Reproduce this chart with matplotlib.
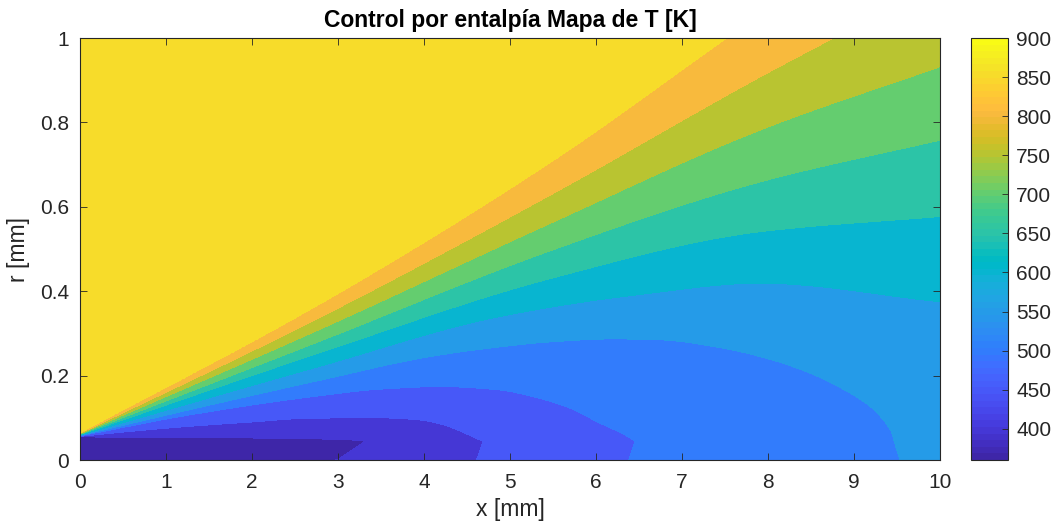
import numpy as np
import matplotlib
matplotlib.use("Agg")
import matplotlib.pyplot as plt
from matplotlib.colors import ListedColormap, Normalize
from matplotlib.cm import ScalarMappable
from matplotlib.ticker import FuncFormatter

plt.rcParams['font.family'] = ['Liberation Sans', 'DejaVu Sans']

# parula (64 colours)
parula = ListedColormap([
    [0.2422, 0.1504, 0.6603], [0.2504, 0.1650, 0.7076], [0.2578, 0.1818, 0.7511], [0.2647, 0.1978, 0.7952],
    [0.2706, 0.2147, 0.8364], [0.2751, 0.2342, 0.8710], [0.2783, 0.2559, 0.8991], [0.2803, 0.2782, 0.9221],
    [0.2813, 0.3006, 0.9414], [0.2810, 0.3228, 0.9579], [0.2795, 0.3447, 0.9717], [0.2760, 0.3667, 0.9829],
    [0.2699, 0.3892, 0.9906], [0.2602, 0.4123, 0.9952], [0.2440, 0.4358, 0.9988], [0.2206, 0.4603, 0.9973],
    [0.1963, 0.4847, 0.9892], [0.1834, 0.5074, 0.9798], [0.1786, 0.5289, 0.9682], [0.1764, 0.5499, 0.9520],
    [0.1687, 0.5703, 0.9359], [0.1540, 0.5902, 0.9218], [0.1460, 0.6091, 0.9079], [0.1380, 0.6276, 0.8973],
    [0.1248, 0.6459, 0.8883], [0.1113, 0.6635, 0.8763], [0.0952, 0.6798, 0.8598], [0.0689, 0.6948, 0.8394],
    [0.0297, 0.7082, 0.8163], [0.0036, 0.7203, 0.7917], [0.0067, 0.7312, 0.7660], [0.0433, 0.7411, 0.7394],
    [0.0964, 0.7500, 0.7120], [0.1408, 0.7584, 0.6842], [0.1717, 0.7670, 0.6554], [0.1938, 0.7758, 0.6251],
    [0.2161, 0.7843, 0.5923], [0.2470, 0.7918, 0.5567], [0.2906, 0.7973, 0.5188], [0.3406, 0.8008, 0.4789],
    [0.3909, 0.8029, 0.4354], [0.4456, 0.8024, 0.3909], [0.5044, 0.7993, 0.3480], [0.5616, 0.7942, 0.3045],
    [0.6174, 0.7876, 0.2612], [0.6720, 0.7793, 0.2227], [0.7242, 0.7698, 0.1910], [0.7738, 0.7598, 0.1646],
    [0.8203, 0.7498, 0.1535], [0.8634, 0.7406, 0.1596], [0.9035, 0.7330, 0.1774], [0.9393, 0.7288, 0.2100],
    [0.9728, 0.7298, 0.2394], [0.9956, 0.7434, 0.2371], [0.9970, 0.7659, 0.2199], [0.9952, 0.7893, 0.2028],
    [0.9892, 0.8136, 0.1885], [0.9786, 0.8386, 0.1766], [0.9676, 0.8639, 0.1643], [0.9610, 0.8890, 0.1537],
    [0.9597, 0.9135, 0.1423], [0.9628, 0.9373, 0.1265], [0.9691, 0.9606, 0.1064], [0.9769, 0.9839, 0.0805],
], name='parula')

T_min, T_max = 360, 900
iso_levels = [400, 450, 500, 550, 600, 650, 700, 750, 800, 850]

# temperature on the axis (r = 0) and just off it
x_st = [0, 1, 2, 3, 4, 5, 6, 7, 8, 9, 10]
T_axis = [360, 368, 382, 400.5, 432, 461.5, 492, 513, 528, 542, 557]
r_near = 0.045
T_near = [365, 372, 382, 389, 424, 462, 490, 512, 528, 543, 558]

# temperature at the upper edge r = 1 mm
x_top = [0, 5, 6.5, 7.52, 8.76, 10]
T_top = [900, 900, 885, 850, 800, 762]

# isotherm positions r(x) [mm]
iso_400 = ([0, 1.22, 2.0, 2.7, 3.1, 3.31],
           [0.055, 0.053, 0.052, 0.050, 0.048, 0.045])
iso_450 = ([0, 0.6, 1.22, 2.0, 2.67, 3.45, 3.9, 4.2, 4.45, 4.62, 4.68],
           [0.056, 0.068, 0.079, 0.090, 0.099, 0.100, 0.096, 0.085, 0.066, 0.050, 0.045])
iso_500 = ([0, 1.22, 2.7, 3.5, 4.2, 4.88, 5.27, 5.66, 6.05, 6.33, 6.45],
           [0.057, 0.105, 0.150, 0.168, 0.174, 0.166, 0.150, 0.126, 0.087, 0.060, 0.045])
iso_550 = ([0, 1.4, 2.77, 4.07, 4.88, 5.47, 6.2, 6.74, 7.4, 8.0, 8.5, 8.9, 9.2, 9.38, 9.45, 9.47],
           [0.058, 0.125, 0.188, 0.245, 0.268, 0.280, 0.287, 0.285, 0.268, 0.240, 0.205, 0.165, 0.125,
            0.085, 0.060, 0.045])
iso_600 = ([0, 2.77, 4.88, 6.5, 7.9, 10],
           [0.059, 0.221, 0.340, 0.392, 0.419, 0.375])
iso_650 = ([0, 2.77, 5.47, 7.91, 10],
           [0.060, 0.253, 0.430, 0.541, 0.577])
iso_700 = ([0, 2.77, 5.47, 7.91, 10],
           [0.061, 0.280, 0.496, 0.659, 0.758])
iso_750 = ([0, 2.77, 5.47, 7.91, 10],
           [0.062, 0.308, 0.561, 0.782, 0.932])
iso_800 = ([0, 2.77, 5.47, 7.91, 8.76],
           [0.063, 0.336, 0.628, 0.908, 1.0])
iso_850 = ([0, 2.77, 5.47, 7.52],
           [0.064, 0.367, 0.705, 1.0])

isotherms = [iso_400, iso_450, iso_500, iso_550, iso_600,
             iso_650, iso_700, iso_750, iso_800, iso_850]


def pchip(xs, ys, x):
    """Monotone cubic through (xs, ys); NaN outside the range."""
    xs = np.asarray(xs, float)
    ys = np.asarray(ys, float)
    h = np.diff(xs)
    d = np.diff(ys) / h
    m = np.zeros_like(ys)
    m[0], m[-1] = d[0], d[-1]
    for k in range(1, len(xs) - 1):
        if d[k - 1] * d[k] > 0:
            w1 = 2 * h[k] + h[k - 1]
            w2 = h[k] + 2 * h[k - 1]
            m[k] = (w1 + w2) / (w1 / d[k - 1] + w2 / d[k])
    out = np.full(len(x), np.nan)
    ok = (x >= xs[0]) & (x <= xs[-1])
    k = np.clip(np.searchsorted(xs, x[ok]) - 1, 0, len(xs) - 2)
    t = (x[ok] - xs[k]) / h[k]
    h00 = 2 * t**3 - 3 * t**2 + 1
    h10 = t**3 - 2 * t**2 + t
    h01 = -2 * t**3 + 3 * t**2
    h11 = t**3 - t**2
    out[ok] = h00 * ys[k] + h10 * h[k] * m[k] + h01 * ys[k + 1] + h11 * h[k] * m[k + 1]
    return out


def build_field(xg, rg):
    r_iso = [pchip(xs, rs, xg) for xs, rs in isotherms]
    T = np.zeros((len(rg), len(xg)))
    for j, x in enumerate(xg):
        rp = [0.0, r_near]
        tp = [np.interp(x, x_st, T_axis), np.interp(x, x_st, T_near)]
        for lev, rl in zip(iso_levels, r_iso):
            r = rl[j]
            if np.isfinite(r) and rp[-1] + 1e-4 < r < 1.0:
                rp.append(r)
                tp.append(lev)
        rp.append(1.0)
        tp.append(np.interp(x, x_top, T_top))
        T[:, j] = np.interp(rg, rp, tp)
    return T


xg = np.linspace(0, 10, 1001)
rg = np.linspace(0, 1, 1201)
T = build_field(xg, rg)

norm = Normalize(T_min, T_max)
bounds = [T_min] + iso_levels + [T_max]
band_colors = [parula(norm(b)) for b in bounds[:-1]]

fig = plt.figure(figsize=(10.56, 5.31), dpi=100)
ax = fig.add_axes([80 / 1056, 1 - 460 / 531, 860 / 1056, 422 / 531])
cax = fig.add_axes([971 / 1056, 1 - 460 / 531, 37 / 1056, 422 / 531])

ax.contourf(xg, rg, T, levels=bounds, colors=band_colors, antialiased=False)

dark = '#262626'
ax.set_xlim(0, 10)
ax.set_ylim(0, 1)
ax.set_xticks(range(0, 11))
ax.set_yticks([0, 0.2, 0.4, 0.6, 0.8, 1])
ax.yaxis.set_major_formatter(FuncFormatter(lambda v, p: '%g' % v))
ax.tick_params(direction='in', top=True, right=True, length=5, width=0.6,
               colors=dark, labelsize=15)
ax.tick_params(axis='x', pad=9.5)
ax.tick_params(axis='y', pad=8)
for s in ax.spines.values():
    s.set_color(dark)
    s.set_linewidth(0.8)

ax.set_xlabel('x [mm]', fontsize=16.5, color=dark, labelpad=4)
ax.set_ylabel('r [mm]', fontsize=16.5, color=dark, labelpad=7)
ax.set_title('Control por entalpía Mapa de T [K]', fontsize=16.5,
             fontweight='bold', pad=8)

cb = fig.colorbar(ScalarMappable(norm=norm, cmap=parula), cax=cax,
                  ticks=range(400, 901, 50))
cb.outline.set_edgecolor(dark)
cb.outline.set_linewidth(0.8)
cb.ax.tick_params(direction='in', length=4, width=0.6, colors=dark,
                  labelsize=15, pad=6)

fig.savefig('out.png', dpi=100)
